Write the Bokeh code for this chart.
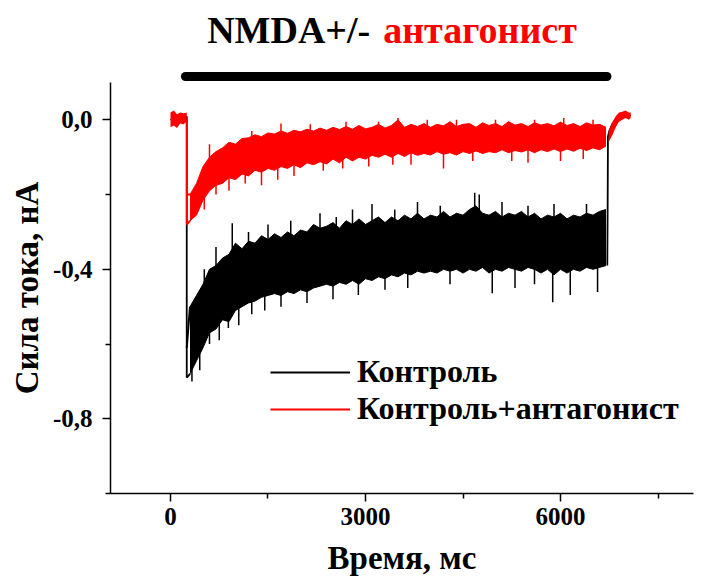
import numpy as np
from bokeh.plotting import figure
from bokeh.layouts import column
from bokeh.models import Range1d, FixedTicker, CustomJSTickFormatter, Legend, LegendItem
from bokeh.core.properties import value
from bokeh.embed import file_html
from bokeh.resources import INLINE

# ---------------- data ----------------
title_left = "NMDA+/-"
title_right = "антагонист"
x_label = "Время, мс"
y_label = "Сила тока, нА"
legend_labels = ["Контроль", "Контроль+антагонист"]

x_major = [0, 3000, 6000]
x_minor = [1500, 4500, 7500]
y_major = [-0.8, -0.4, 0.0]
y_minor = [-1.0, -0.6, -0.2]

# NMDA application bar (ms)
bar_start, bar_end = 230, 6715

# sampling times of the noisy envelope (ms)
t_env = list(range(300, 6800, 100))

red_upper = [-0.20, -0.17, -0.125, -0.10, -0.085, -0.075, -0.06, -0.065, -0.05, -0.048,
             -0.04, -0.045, -0.035, -0.038, -0.03, -0.036, -0.028, -0.032, -0.025, -0.03,
             -0.022, -0.028, -0.02, -0.026, -0.018, -0.025, -0.015, -0.024, -0.02, -0.012,
             -0.022, -0.015, 0.0, -0.02, -0.012, -0.018, -0.01, -0.02, -0.012, -0.016,
             -0.005, -0.018, -0.012, -0.01, -0.02, -0.008, -0.015, -0.01, -0.018, -0.005,
             -0.014, -0.01, -0.018, -0.008, -0.014, -0.01, -0.016, -0.006, -0.015, -0.01,
             -0.018, -0.008, -0.014, -0.012, -0.02]
red_lower = [-0.27, -0.255, -0.215, -0.19, -0.175, -0.17, -0.155, -0.16, -0.145, -0.15,
             -0.135, -0.14, -0.13, -0.135, -0.125, -0.13, -0.12, -0.128, -0.115, -0.12,
             -0.112, -0.118, -0.105, -0.115, -0.10, -0.11, -0.10, -0.105, -0.095, -0.10,
             -0.092, -0.10, -0.09, -0.098, -0.088, -0.095, -0.09, -0.094, -0.085, -0.092,
             -0.088, -0.094, -0.085, -0.09, -0.083, -0.09, -0.085, -0.088, -0.08, -0.088,
             -0.082, -0.086, -0.08, -0.088, -0.08, -0.085, -0.078, -0.085, -0.078, -0.084,
             -0.076, -0.082, -0.075, -0.08, -0.07]
black_upper = [-0.50, -0.47, -0.44, -0.40, -0.39, -0.37, -0.36, -0.33, -0.345, -0.325,
               -0.33, -0.31, -0.32, -0.305, -0.315, -0.30, -0.31, -0.295, -0.30, -0.28,
               -0.29, -0.285, -0.275, -0.29, -0.27, -0.28, -0.265, -0.28, -0.27, -0.26,
               -0.275, -0.26, -0.27, -0.255, -0.265, -0.25, -0.265, -0.255, -0.26, -0.245,
               -0.26, -0.25, -0.255, -0.24, -0.23, -0.25, -0.255, -0.245, -0.26, -0.25,
               -0.255, -0.245, -0.26, -0.25, -0.265, -0.255, -0.26, -0.25, -0.265, -0.255,
               -0.26, -0.25, -0.255, -0.245, -0.24]
black_lower = [-0.68, -0.645, -0.61, -0.57, -0.56, -0.535, -0.54, -0.51, -0.50, -0.49,
               -0.485, -0.475, -0.47, -0.465, -0.47, -0.46, -0.465, -0.455, -0.46, -0.45,
               -0.445, -0.44, -0.445, -0.435, -0.44, -0.43, -0.44, -0.425, -0.43, -0.42,
               -0.425, -0.415, -0.42, -0.41, -0.415, -0.405, -0.41, -0.405, -0.41, -0.40,
               -0.405, -0.40, -0.41, -0.40, -0.405, -0.395, -0.41, -0.40, -0.405, -0.395,
               -0.40, -0.405, -0.395, -0.40, -0.41, -0.40, -0.415, -0.40, -0.41, -0.40,
               -0.405, -0.395, -0.40, -0.395, -0.39]

# single noise spikes (time ms, value nA)
red_spike_t = [520, 700, 900, 1150, 1400, 1650, 1900, 2350, 2650, 3050, 3420, 3700, 4200, 4650,
               5250, 5500, 6000, 6350,
               600, 1250, 1700, 2150, 2700, 3200, 3500, 3950, 4400, 5000, 5600, 6050, 6500]
red_spike_v = [-0.24, -0.20, -0.19, -0.17, -0.175, -0.16, -0.15, -0.136, -0.13, -0.125, -0.12,
               -0.12, -0.13, -0.11, -0.11, -0.115, -0.11, -0.105,
               -0.065, -0.03, -0.01, -0.012, -0.005, -0.005, 0.005, 0.0, 0.0, 0.0, 0.0, 0.005, 0.0]
black_spike_t = [330, 450, 600, 750, 890, 1050, 1250, 1450, 1700, 2100, 2500, 2890, 3300, 3650,
                 4300, 4950, 5300, 5600, 5880, 6150, 6570,
                 520, 700, 950, 1200, 1500, 1850, 2300, 2550, 2800, 3100, 3450, 3800, 4150,
                 4680, 4750, 5100, 5500, 5900, 6400]
black_spike_v = [-0.70, -0.67, -0.60, -0.59, -0.557, -0.55, -0.52, -0.51, -0.50, -0.49, -0.48,
                 -0.469, -0.455, -0.45, -0.44, -0.464, -0.45, -0.44, -0.488, -0.469, -0.461,
                 -0.40, -0.34, -0.277, -0.30, -0.28, -0.27, -0.25, -0.26, -0.24, -0.225, -0.24,
                 -0.22, -0.23, -0.195, -0.20, -0.22, -0.23, -0.225, -0.225]

# baseline before application
t_base = [0, 50, 100, 150, 200, 250]
red_base_upper = [0.02, 0.025, 0.015, 0.02, 0.018, 0.02]
red_base_lower = [-0.02, -0.015, -0.022, -0.01, -0.012, -0.005]
black_base = [0.0, 0.005, 0.0, 0.004, 0.002, 0.01]

# onset jump
t_on = 250
red_on = [0.0, -0.28]
black_on = [0.01, -0.69]

# wash-out / recovery
t_red_end = [6740, 6800, 6850, 6900, 6950, 7000, 7050, 7080]
red_end_upper = [-0.03, -0.005, 0.01, 0.02, 0.022, 0.025, 0.02, 0.02]
red_end_lower = [-0.06, -0.04, -0.02, -0.005, 0.0, 0.005, 0.0, 0.005]
t_black_end = [6720, 6725, 6730, 6750, 6800, 6900, 7000, 7080]
black_end = [-0.39, -0.24, -0.045, -0.03, -0.01, 0.005, 0.01, 0.012]

# ---------------- styling ----------------
FONT_NAME = "Liberation Serif"
FONT = value(FONT_NAME)
RED = "#ff0000"
BLACK = "#000000"

xr = Range1d(-923, 8046)

top = figure(width=705, height=82, x_range=xr, y_range=Range1d(0, 1),
             output_backend="svg", toolbar_location=None,
             x_axis_location=None, y_axis_location=None,
             min_border_left=110, min_border_right=12, min_border_top=0, min_border_bottom=0)
top.grid.visible = False
top.outline_line_color = None
top.segment(x0=[bar_start], y0=[0.073], x1=[bar_end], y1=[0.073],
            line_width=9, line_cap="round", color=BLACK)
mid = (bar_start + bar_end) / 2
top.text(x=[mid], y=[0.64], text=[title_left], text_align="right", text_baseline="alphabetic",
         x_offset=-26, text_font=FONT, text_font_style="bold", text_font_size="38px", text_color=BLACK)
top.text(x=[mid], y=[0.64], text=[title_right], text_align="left", text_baseline="alphabetic",
         x_offset=-13, text_font=FONT, text_font_style="bold", text_font_size="38px", text_color=RED)

p = figure(width=705, height=503, x_range=xr, y_range=Range1d(-1.0, 0.1),
           output_backend="svg", toolbar_location=None,
           min_border_left=110, min_border_right=12, min_border_top=0, min_border_bottom=92)
p.grid.visible = False
p.outline_line_color = None


def draw_trace(up, lo, sp_t, sp_v, base_up, base_lo, on, end_t, end_up, end_lo, color):
    up = np.array(up)
    lo = np.array(lo)
    p.varea(x=t_env, y1=lo, y2=up, fill_color=color)
    p.line(t_env, up, line_color=color, line_width=1)
    p.line(t_env, lo, line_color=color, line_width=1)
    midline = np.interp(sp_t, t_env, (up + lo) / 2)
    p.segment(x0=sp_t, y0=sp_v, x1=sp_t, y1=midline, line_color=color, line_width=1.5)
    if base_lo is None:
        p.line(t_base, base_up, line_color=color, line_width=1.5)
    else:
        p.varea(x=t_base, y1=base_lo, y2=base_up, fill_color=color)
    p.line([t_on, t_env[0]], [on[1], lo[0]], line_color=color, line_width=2)
    p.line([t_on, t_env[0]], [on[1] + 0.08, up[0]], line_color=color, line_width=2)
    on_r = p.line([t_on, t_on], on, line_color=color, line_width=1.8)
    if end_lo is None:
        p.line(end_t, end_up, line_color=color, line_width=1.8)
    else:
        p.varea(x=end_t, y1=end_lo, y2=end_up, fill_color=color)
    return on_r


black_r = draw_trace(black_upper, black_lower, black_spike_t, black_spike_v,
                     black_base, None, black_on, t_black_end, black_end, None, BLACK)
red_r = draw_trace(red_upper, red_lower, red_spike_t, red_spike_v,
                   red_base_upper, red_base_lower, red_on, t_red_end, red_end_upper, red_end_lower, RED)

legend = Legend(items=[LegendItem(label=legend_labels[0], renderers=[black_r]),
                       LegendItem(label=legend_labels[1], renderers=[red_r])],
                location=(160, 66), glyph_width=80, glyph_height=20, label_standoff=7,
                spacing=0, padding=0, margin=0, border_line_color=None,
                background_fill_alpha=0, label_text_font=FONT_NAME, label_text_font_style="bold",
                label_text_font_size="32px", label_text_color=BLACK)
p.add_layout(legend)

for ax in (p.xaxis[0], p.yaxis[0]):
    ax.axis_line_width = 1.5
    ax.axis_line_color = BLACK
    ax.major_tick_line_width = 1.5
    ax.minor_tick_line_width = 1.5
    ax.major_tick_line_color = BLACK
    ax.minor_tick_line_color = BLACK
    ax.major_tick_in = 0
    ax.major_tick_out = 8
    ax.minor_tick_in = 0
    ax.minor_tick_out = 5
    ax.major_label_text_font = FONT_NAME
    ax.major_label_text_font_style = "bold"
    ax.major_label_text_font_size = "25px"
    ax.major_label_text_color = BLACK
    ax.axis_label_text_font = FONT_NAME
    ax.axis_label_text_font_style = "bold"
    ax.axis_label_text_font_size = "33px"
    ax.axis_label_text_color = BLACK

p.xaxis.ticker = FixedTicker(ticks=x_major, minor_ticks=x_minor)
p.yaxis.ticker = FixedTicker(ticks=y_major, minor_ticks=y_minor)
p.yaxis.formatter = CustomJSTickFormatter(code="return tick.toFixed(1).replace('.', ',');")
p.xaxis.axis_label = x_label
p.yaxis.axis_label = y_label
p.xaxis.major_label_standoff = 6
p.xaxis.axis_label_standoff = 12
p.yaxis.major_label_standoff = 10
p.yaxis.axis_label_standoff = 5

layout = column(top, p, spacing=0)
open("out.html", "w").write(file_html(layout, INLINE))
